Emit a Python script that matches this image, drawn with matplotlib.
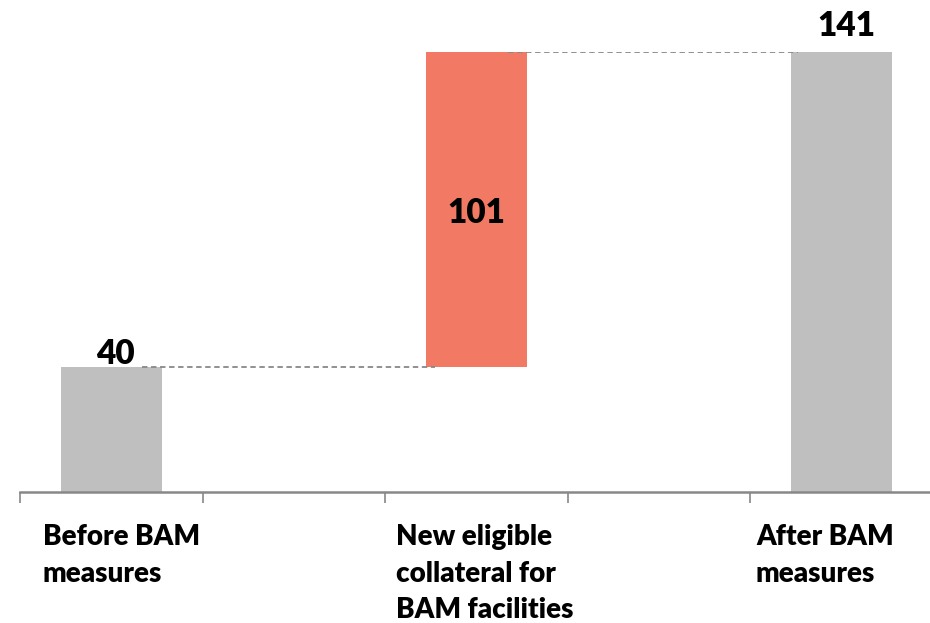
import matplotlib.pyplot as plt
from matplotlib.transforms import blended_transform_factory

categories = ['Before BAM\nmeasures', '', 'New eligible\ncollateral for\nBAM facilities', '', 'After BAM\nmeasures']
start_value = 40
change_value = 101
end_value = 141

grey = '#BFBFBF'
red = '#F27A65'
plt.rcParams['font.family'] = ['Lato', 'DejaVu Sans']

figure = plt.figure(figsize=(9.3, 6.23), dpi=100)
axes = figure.add_axes([20 / 930, 131 / 623, 913 / 930, 440 / 623])

positions = [0, 2, 4]
bottoms = [0, start_value, 0]
heights = [start_value, change_value, end_value]
colours = [grey, red, grey]
axes.bar(positions, heights, bottom=bottoms, width=0.55, color=colours, zorder=2)

# connector lines between bars
axes.plot([0.17, 1.77], [start_value, start_value], ls=(0, (3, 2)), color='#888888', lw=1.3, zorder=3)
axes.plot([2.17, 3.76], [end_value, end_value], ls=(0, (3, 2)), color='#888888', lw=1.3, zorder=3)

# value labels
axes.text(0.02, start_value + 1, str(start_value), ha='center', va='baseline', fontsize=24, fontweight='heavy')
axes.text(2, 86.2, str(change_value), ha='center', va='baseline', fontsize=24, fontweight='heavy')
axes.text(4.025, end_value + 5.2, str(end_value), ha='center', va='baseline', fontsize=24, fontweight='heavy', clip_on=False)

axes.set_xlim(-0.5, 4.5)
axes.set_ylim(0, end_value)
axes.set_xticks([-0.5, 0.5, 1.5, 2.5, 3.5, 4.5])
axes.set_xticklabels([])
axes.tick_params(axis='x', length=8, width=1.2, color='#888888', direction='out')
axes.set_yticks([])
for side in ['top', 'right', 'left']:
    axes.spines[side].set_visible(False)
axes.spines['bottom'].set_color('#888888')
axes.spines['bottom'].set_linewidth(1.8)

# category labels, left aligned under each bar
label_x = [-0.375, 1.56, 3.53]
trans = blended_transform_factory(axes.transData, figure.transFigure)
for x, name in zip(label_x, [categories[0], categories[2], categories[4]]):
    axes.text(x, 1 - 524 / 623, name, transform=trans, ha='left', va='top',
              fontsize=20, fontweight='heavy', linespacing=1.5, clip_on=False)

figure.savefig('out.png', dpi=100)
